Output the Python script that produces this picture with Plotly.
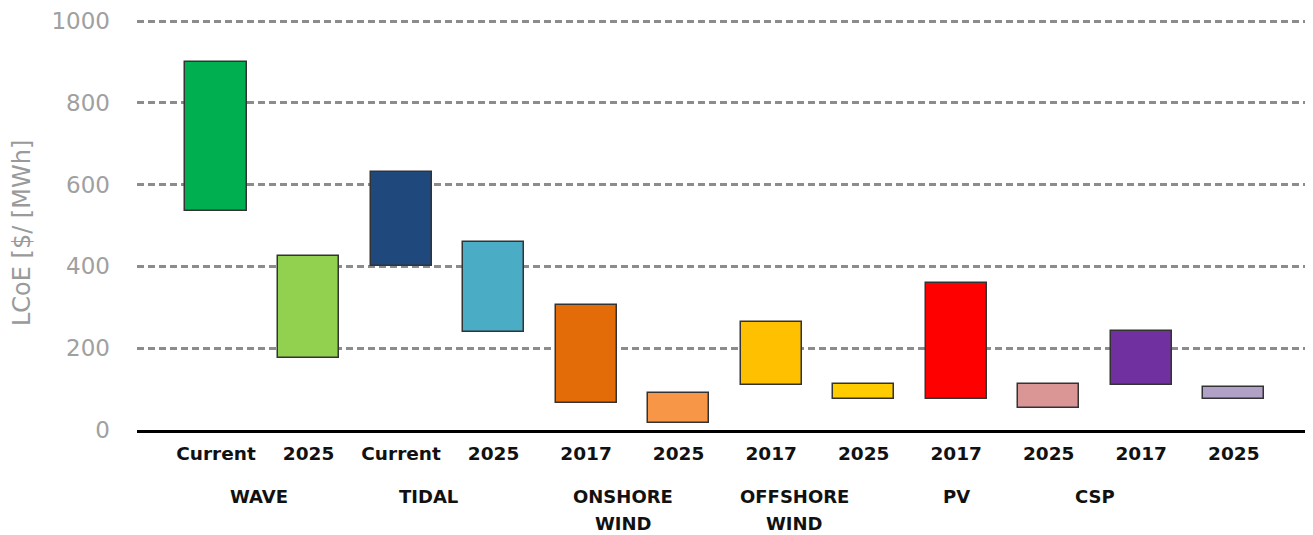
import plotly.graph_objects as go

# ---- data ----
groups = [["WAVE"], ["TIDAL"], ["ONSHORE", "WIND"], ["OFFSHORE", "WIND"], ["PV"], ["CSP"]]
periods = ["Current", "2025", "Current", "2025", "2017", "2025",
           "2017", "2025", "2017", "2025", "2017", "2025"]
lcoe_low = [535, 175, 400, 240, 65, 18, 110, 75, 75, 55, 110, 75]
lcoe_high = [900, 425, 630, 460, 305, 90, 265, 112, 360, 112, 242, 105]
y_ticks = [0, 200, 400, 600, 800, 1000]

# ---- style ----
colors = ["#00B050", "#92D050", "#1F497D", "#4BACC6", "#E36C09", "#F79646",
          "#FFC000", "#FFCC00", "#FF0000", "#D99694", "#7030A0", "#B2A1C7"]
label_shift = [-0.04, -0.2, -0.1, -0.25, -0.5, -1.0]
FONT = "DejaVu Sans"

idx = list(range(len(periods)))
fig = go.Figure()
fig.add_trace(go.Bar(
    x=idx,
    y=[h - l for h, l in zip(lcoe_high, lcoe_low)],
    base=lcoe_low,
    width=0.66,
    marker=dict(color=colors, line=dict(color="#333333", width=1.5)),
    showlegend=False,
))

# group labels (each line as its own text so line spacing matches)
for g, lines in enumerate(groups):
    for k, line in enumerate(lines):
        fig.add_annotation(
            x=2 * g + 0.5 + label_shift[g], xref="x",
            y=-0.163 - 0.064 * k, yref="paper", yanchor="middle",
            text="<b>" + line + "</b>", showarrow=False,
            font=dict(family=FONT, size=18, color="#111111"),
        )

fig.add_annotation(
    x=-0.0985, xref="paper", xanchor="center",
    y=0.479, yref="paper", yanchor="middle",
    text="LCoE [$/ [MWh]", textangle=-90, showarrow=False,
    font=dict(family=FONT, size=24, color="#9a9a9a"),
)

fig.update_layout(
    width=1313, height=535,
    margin=dict(l=137, r=8, t=19, b=105, autoexpand=False),
    plot_bgcolor="white", paper_bgcolor="white",
    bargap=0,
    xaxis=dict(
        range=[-0.854, 11.77],
        tickmode="array", tickvals=idx,
        ticktext=["<b>" + p + "</b>" for p in periods],
        tickfont=dict(family=FONT, size=18.5, color="#111111"),
        showgrid=False, zeroline=False,
        showline=True, linecolor="black", linewidth=3,
        ticks="", ticklabelstandoff=5, automargin=False,
    ),
    yaxis=dict(
        range=[0, 1004.9],
        tickmode="array", tickvals=y_ticks,
        tickfont=dict(family=FONT, size=23, color="#a0a0a0"),
        showgrid=True, gridcolor="#8c8c8c", gridwidth=2.5,
        griddash="7px,4px",
        zeroline=False, showline=False, ticks="",
        ticklabelstandoff=26, automargin=False,
    ),
)

fig.write_html("out.html", config={"displayModeBar": False},
               post_script="document.body.style.margin='0';")
